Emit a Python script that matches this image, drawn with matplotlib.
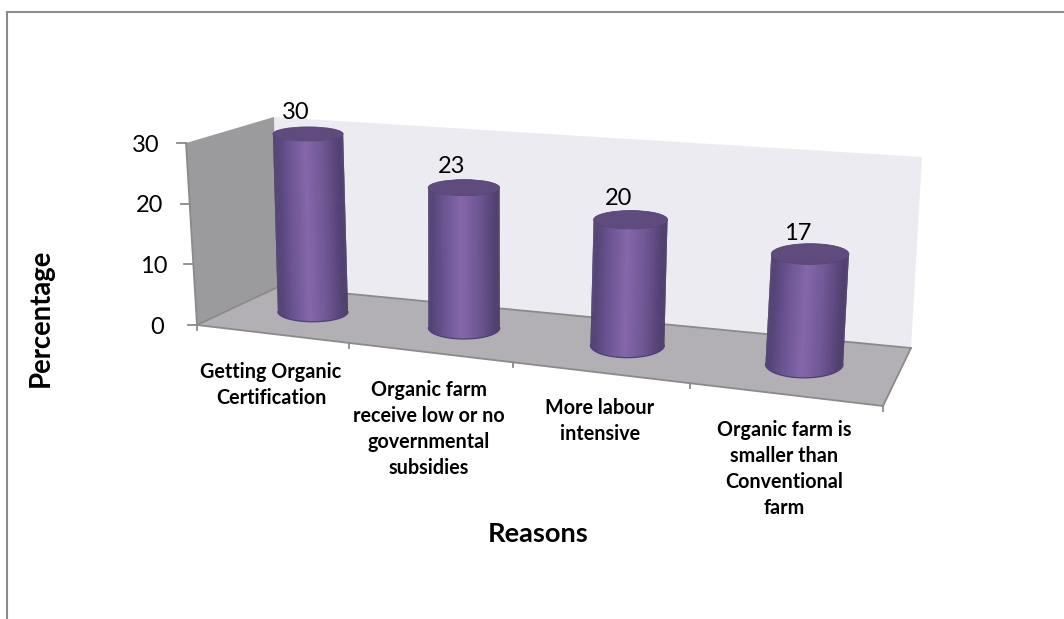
import numpy as np
import matplotlib
matplotlib.use("Agg")
import matplotlib.pyplot as plt
from matplotlib.collections import PolyCollection
from matplotlib.colors import LinearSegmentedColormap
from matplotlib.patches import Ellipse, Polygon

categories = [
    "Getting Organic\nCertification",
    "Organic farm\nreceive low or no\ngovernmental\nsubsidies",
    "More labour\nintensive",
    "Organic farm is\nsmaller than\nConventional\nfarm",
]
values = [30, 23, 20, 17]
y_ticks = [0, 10, 20, 30]
y_max = 30

W, H = 1064, 619

# corners of the fake 3d box in pixels: (right?, back?, top?)
CORNERS = {
    (0, 0, 0): (197, 325), (1, 0, 0): (883, 406),
    (0, 1, 0): (278, 287), (1, 1, 0): (911, 348),
    (0, 0, 1): (186, 143), (1, 0, 1): (899, 201),
    (0, 1, 1): (274, 117), (1, 1, 1): (922, 157),
}
PERSP = 0.854  # right side of the box is nearer, categories get wider


def project(u, d, z):
    """u = 0..1 along categories, d = 0..1 front to back, z = 0..1 up."""
    u = PERSP * u / (1 + (PERSP - 1) * u)
    p = np.zeros(2)
    for (a, b, c), xy in CORNERS.items():
        w = (u if a else 1 - u) * (d if b else 1 - d) * (z if c else 1 - z)
        p += w * np.array(xy, dtype=float)
    return p


plt.rcParams["font.family"] = ["Lato", "DejaVu Sans"]

fig = plt.figure(figsize=(W / 100, H / 100), dpi=100)
ax = fig.add_axes([0, 0, 1, 1])
ax.set_xlim(0, W)
ax.set_ylim(H, 0)
ax.axis("off")

# chart border, only top and left show in the crop
ax.plot([W, 7, 7], [12, 12, H], color="#8c8c8c", lw=1.5, solid_joinstyle="miter")


def face(keys, color, zorder=1):
    ax.add_patch(Polygon([CORNERS[k] for k in keys], closed=True, fc=color, ec="none", zorder=zorder))


face([(0, 1, 0), (1, 1, 0), (1, 1, 1), (0, 1, 1)], "#ecebf2")
face([(0, 0, 0), (0, 1, 0), (0, 1, 1), (0, 0, 1)], "#9b9b9e")
face([(0, 0, 0), (1, 0, 0), (1, 1, 0), (0, 1, 0)], "#b3b0b5")

edge = "#8a8a8a"
for k1, k2 in [((0, 0, 0), (1, 0, 0)), ((1, 0, 0), (1, 1, 0)), ((0, 1, 0), (1, 1, 0)),
               ((0, 0, 0), (0, 1, 0)), ((0, 0, 0), (0, 0, 1))]:
    xs, ys = zip(CORNERS[k1], CORNERS[k2])
    ax.plot(xs, ys, color=edge, lw=1.3, zorder=2)

# value axis
for t in y_ticks:
    x, y = project(0, 0, t / y_max)
    ax.plot([x - 9, x], [y, y], color=edge, lw=1.3, zorder=2)
    ax.text(x - 40, y + 2, str(t), ha="center", va="center", fontsize=17, color="black")

# category ticks on the front edge
for i in range(len(categories) + 1):
    x, y = project(i / len(categories), 0, 0)
    ax.plot([x, x], [y, y + 5], color=edge, lw=1.3, zorder=2)

shade = LinearSegmentedColormap.from_list(
    "cyl", [(0, "#4f3f70"), (0.2, "#6a5390"), (0.45, "#8567ab"), (0.7, "#6f5794"), (1, "#4a3a68")])

label_pos = [(271, 385), (429, 429), (600, 421), (784, 469)]
for i, (cat, val) in enumerate(zip(categories, values)):
    uc = (i + 0.5) / len(categories)
    bottom = project(uc, 0.55, 0)
    top = project(uc, 0.55, val / y_max)
    half_w = 35 + 5 * uc ** 2
    semi_b = abs(project(uc, 0.8, 0)[1] - project(uc, 0.3, 0)[1]) / 2
    semi_t = abs(project(uc, 0.8, 1)[1] - project(uc, 0.3, 1)[1]) / 2

    # side of the cylinder as strips, each overlaps the next so no seams show
    n = 90
    theta = np.linspace(np.pi, 2 * np.pi, n + 1)
    bx = bottom[0] + half_w * np.cos(theta)
    by = bottom[1] - semi_b * np.sin(theta)
    tx = top[0] + half_w * np.cos(theta)
    ty = top[1] - semi_t * np.sin(theta)
    polys, cols = [], []
    for j in range(n):
        k = min(j + 2, n)
        polys.append([(bx[j], by[j]), (bx[k], by[k]), (tx[k], ty[k]), (tx[j], ty[j])])
        cols.append(shade((np.cos(theta[j]) + 1) / 2))
    ax.add_collection(PolyCollection(polys, facecolors=cols, edgecolors="none", zorder=4))
    ax.plot(bx, by, color="#4f3f78", lw=0.9, zorder=5)
    ax.add_patch(Ellipse(top, 2 * half_w, 2 * semi_t, fc="#5f4b7d", ec="#54436f", lw=0.6, zorder=6))

    ax.text(top[0] - 12, top[1] - 21, str(val), ha="center", va="center", fontsize=17, color="black", zorder=7)
    ax.text(label_pos[i][0], label_pos[i][1], cat, ha="center", va="center", fontsize=14.2,
            fontweight="bold", linespacing=1.39, color="black")

ax.text(538, 534, "Reasons", ha="center", va="center", fontsize=19.6, fontweight="bold")
ax.text(41, 318, "Percentage", ha="center", va="center", rotation=90, fontsize=19.8, fontweight="bold")

fig.savefig("out.png", dpi=100)
